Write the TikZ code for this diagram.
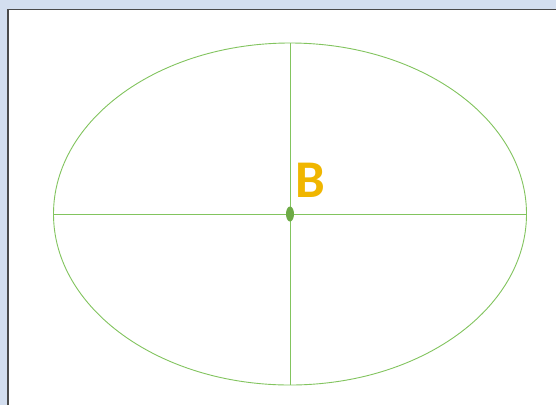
\documentclass[tikz,border=0pt]{standalone}
\usepackage{fontspec}
\usepackage{xcolor}
\usetikzlibrary{calc}
\newfontfamily\labelfont{Carlito}
\definecolor{bgblue}{HTML}{D3DEEF}
\definecolor{framegray}{HTML}{4A4A4A}
\definecolor{linegreen}{HTML}{82C45E}
\definecolor{dotgreen}{HTML}{6DAA45}
\definecolor{goldacc}{HTML}{F0B600}

\begin{document}
\begin{tikzpicture}[x=1pt,y=-1pt,line width=0.9pt]
  \useasboundingbox (0,0) rectangle (556,405);
  \fill[bgblue] (0,0) rectangle (556,405);
  % White panel with its top and left frame.
  \fill[white] (8,10) rectangle (556,405);
  \draw[framegray,line width=1.2pt] (8,405)--(8,9.5)--(556,9.5);
  % Ellipse and its two axes.
  \coordinate (ctr) at (290,214);
  \draw[linegreen] (ctr) ellipse (236.5 and 171);
  \coordinate (west) at ($(ctr)+(-236.5,0)$);
  \coordinate (east) at ($(ctr)+(236.5,0)$);
  \coordinate (north) at ($(ctr)+(0,-171)$);
  \coordinate (south) at ($(ctr)+(0,171)$);
  \draw[linegreen] (west)--(east) (north)--(south);
  \fill[dotgreen] (ctr) ellipse (4 and 7.5);
  \node[goldacc,font=\labelfont\bfseries\fontsize{53}{53}\selectfont,inner sep=0pt] (lblB) at (310.5,180) {B};
\end{tikzpicture}
\end{document}
